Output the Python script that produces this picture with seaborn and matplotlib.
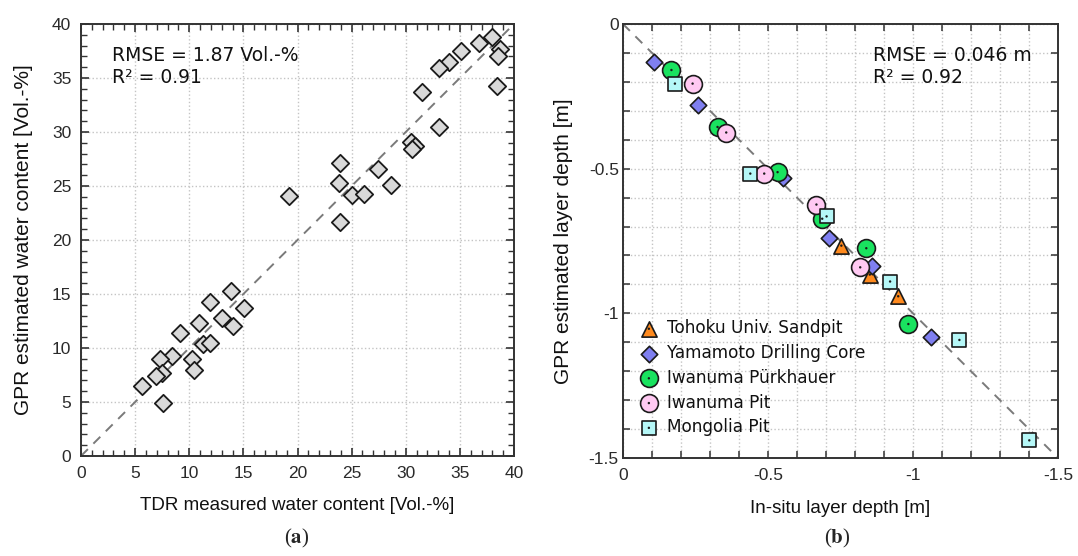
import numpy as np
import pandas as pd
import matplotlib
matplotlib.use("Agg")
import matplotlib.pyplot as plt
import seaborn as sns
from matplotlib.ticker import MultipleLocator, FixedLocator

# ----------------------------------------------------------------------
# DATA
# ----------------------------------------------------------------------
# (a) TDR vs GPR water content [Vol.-%]
tdr_wc = [38.0, 38.7, 38.5, 38.4, 36.8, 35.1, 34.0, 33.1, 31.5, 33.1,
          30.5, 30.9, 30.6, 23.9, 23.8, 27.4, 28.6, 25.0, 26.1, 19.2,
          23.9, 13.9, 11.9, 15.1, 13.0, 14.0, 10.9, 9.1, 11.3, 11.9,
          8.4, 7.3, 10.3, 10.4, 7.5, 6.9, 5.6, 7.6]
gpr_wc = [38.8, 37.7, 37.0, 34.3, 38.2, 37.5, 36.5, 35.9, 33.7, 30.5,
          29.1, 28.7, 28.4, 27.1, 25.3, 26.6, 25.1, 24.2, 24.3, 24.1,
          21.7, 15.3, 14.3, 13.7, 12.8, 12.0, 12.3, 11.4, 10.4, 10.5,
          9.3, 9.0, 9.0, 8.0, 7.7, 7.4, 6.5, 4.9]

# (b) in-situ vs GPR layer depth [m], per site
sites = ["Tohoku Univ. Sandpit", "Yamamoto Drilling Core", "Iwanuma Pürkhauer",
         "Iwanuma Pit", "Mongolia Pit"]
tohoku_x = [-0.753, -0.851, -0.949]
tohoku_y = [-0.766, -0.866, -0.941]
yamamoto_x = [-0.106, -0.258, -0.552, -0.710, -0.860, -1.062]
yamamoto_y = [-0.130, -0.281, -0.531, -0.741, -0.835, -1.081]
purk_x = [-0.167, -0.326, -0.533, -0.687, -0.839, -0.984]
purk_y = [-0.159, -0.356, -0.512, -0.673, -0.775, -1.037]
iwapit_x = [-0.240, -0.356, -0.487, -0.667, -0.818]
iwapit_y = [-0.206, -0.375, -0.517, -0.624, -0.841]
mongolia_x = [-0.179, -0.439, -0.702, -0.921, -1.160, -1.401]
mongolia_y = [-0.206, -0.517, -0.665, -0.890, -1.092, -1.439]

site_x = [tohoku_x, yamamoto_x, purk_x, iwapit_x, mongolia_x]
site_y = [tohoku_y, yamamoto_y, purk_y, iwapit_y, mongolia_y]

# styles for (b)
site_marker = ["^", "D", "o", "o", "s"]
site_color = ["#ff8a1e", "#7f7ff0", "#19e35f", "#ffc9f2", "#b5f7f7"]
site_size = [120, 70, 165, 165, 115]
site_dot = [True, False, True, True, True]

# ----------------------------------------------------------------------
# FIGURE
# ----------------------------------------------------------------------
sns.set_theme(style="ticks")
plt.rcParams["font.family"] = ["Liberation Sans", "DejaVu Sans"]
plt.rcParams["mathtext.fontset"] = "stix"

fig = plt.figure(figsize=(10.78, 5.56), dpi=100)
ax1 = fig.add_axes([81 / 1078, 100 / 556, 433 / 1078, 432 / 556])
ax2 = fig.add_axes([623 / 1078, 98 / 556, 435 / 1078, 434 / 556])

tick_color = "#2a2a2a"
spine_color = "#333333"


def style_axes(ax):
    for sp in ax.spines.values():
        sp.set_color(spine_color)
        sp.set_linewidth(1.4)
    ax.tick_params(which="both", direction="in", top=True, right=True,
                   color=spine_color, labelcolor=tick_color, labelsize=12.5)
    ax.set_facecolor("white")


# --- (a) water content ---
df_a = pd.DataFrame({"tdr": tdr_wc, "gpr": gpr_wc})
ax1.plot([0, 40], [0, 40], color="#7a7a7a", ls=(0, (5, 4)), lw=1.4, zorder=1)
sns.scatterplot(data=df_a, x="tdr", y="gpr", ax=ax1, marker="D", s=78,
                color="#d9d9d9", edgecolor="#1a1a1a", linewidth=1.3, zorder=3)
ax1.set_xlim(0, 40)
ax1.set_ylim(0, 40)
ax1.xaxis.set_major_locator(MultipleLocator(5))
ax1.yaxis.set_major_locator(MultipleLocator(5))
ax1.xaxis.set_minor_locator(MultipleLocator(1))
ax1.yaxis.set_minor_locator(MultipleLocator(1))
style_axes(ax1)
ax1.tick_params(which="major", length=6, width=1.2, pad=7)
ax1.tick_params(which="minor", length=4, width=1.0)
ax1.grid(which="major", color="#c4c4c4", ls=":", lw=1.0, zorder=0)
ax1.set_xlabel("TDR measured water content [Vol.-%]", fontsize=13.5, color="#111111")
ax1.set_ylabel("GPR estimated water content [Vol.-%]", fontsize=15, color="#111111")
ax1.xaxis.set_label_coords(0.5, -0.096)
ax1.yaxis.set_label_coords(-0.112, 0.5)
ax1.text(0.072, 0.95, "RMSE = 1.87 Vol.-%\nR² = 0.91", transform=ax1.transAxes,
         ha="left", va="top", fontsize=13.5, family="DejaVu Sans",
         linespacing=1.25, color="#111111")

# --- (b) layer depth ---
ax2.plot([0, -1.5], [0, -1.5], color="#7a7a7a", ls=(0, (5, 4)), lw=1.4, zorder=1)
handles = []
for name, xs, ys, mk, col, sz, dot in zip(sites, site_x, site_y, site_marker,
                                          site_color, site_size, site_dot):
    df_b = pd.DataFrame({"insitu": xs, "gpr": ys})
    sns.scatterplot(data=df_b, x="insitu", y="gpr", ax=ax2, marker=mk, s=sz,
                    color=col, edgecolor="#1a1a1a", linewidth=1.2, zorder=3)
    h = ax2.collections[-1]
    if dot:
        sns.scatterplot(data=df_b, x="insitu", y="gpr", ax=ax2, marker="o",
                        s=3, color="#1a1a1a", edgecolor="none", zorder=4)
        handles.append((h, ax2.collections[-1]))
    else:
        handles.append(h)

ax2.set_xlim(0, -1.5)
ax2.set_ylim(-1.5, 0)
ax2.xaxis.set_major_locator(FixedLocator([0, -0.5, -1, -1.5]))
ax2.yaxis.set_major_locator(FixedLocator([0, -0.5, -1, -1.5]))
ax2.xaxis.set_minor_locator(MultipleLocator(0.1))
ax2.yaxis.set_minor_locator(MultipleLocator(0.1))
ax2.xaxis.set_major_formatter(plt.FuncFormatter(lambda v, p: f"{v:g}"))
ax2.yaxis.set_major_formatter(plt.FuncFormatter(lambda v, p: f"{v:g}"))
style_axes(ax2)
ax2.tick_params(which="both", length=5, width=1.1)
ax2.tick_params(axis="x", which="major", pad=7)
ax2.tick_params(axis="y", which="major", pad=3)
ax2.grid(which="both", color="#c4c4c4", ls=":", lw=1.0, zorder=0)
ax2.set_xlabel("In-situ layer depth [m]", fontsize=13.5, color="#111111")
ax2.set_ylabel("GPR estimated layer depth [m]", fontsize=15, color="#111111")
ax2.xaxis.set_label_coords(0.5, -0.096)
ax2.yaxis.set_label_coords(-0.115, 0.5)
ax2.text(0.575, 0.95, "RMSE = 0.046 m\nR² = 0.92", transform=ax2.transAxes,
         ha="left", va="top", fontsize=13.5, family="DejaVu Sans",
         linespacing=1.25, color="#111111")

leg = ax2.legend(handles, sites, loc="lower left", bbox_to_anchor=(0.04, 0.05),
                 frameon=False, prop={"family": "DejaVu Sans", "size": 12.2},
                 handlelength=1.0, handletextpad=0.55, labelspacing=0.4,
                 borderpad=0.0, borderaxespad=0.0)
for t in leg.get_texts():
    t.set_color("#111111")

fig.text(297 / 1078, 1 - 538 / 556, r"($\mathbf{a}$)", ha="center", va="center",
         fontsize=15, family="Liberation Serif")
fig.text(837 / 1078, 1 - 538 / 556, r"($\mathbf{b}$)", ha="center", va="center",
         fontsize=15, family="Liberation Serif")

fig.savefig("out.png", dpi=100, facecolor="white")
